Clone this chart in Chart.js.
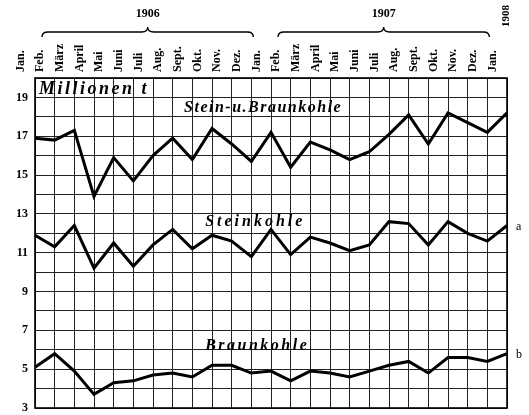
<!DOCTYPE html>
<html>
<head>
<meta charset="utf-8">
<script src="https://cdn.jsdelivr.net/npm/chart.js@4"></script>
<style>
body{margin:0;background:#fff}
#wrap{width:529px;height:415px;position:relative}
</style>
</head>
<body>
<div id="wrap"><canvas id="chart"></canvas></div>
<script>
// Monatsförderung in Millionen t, Jan. 1906 bis Jan. 1908
var months = ['Jan.','Feb.','März','April','Mai','Juni','Juli','Aug.','Sept.','Okt.','Nov.','Dez.',
              'Jan.','Feb.','März','April','Mai','Juni','Juli','Aug.','Sept.','Okt.','Nov.','Dez.',
              'Jan.'];
var years = [{label:'1906', from:0, to:11}, {label:'1907', from:12, to:23}];
var steinBraun = [16.9,16.8,17.3,13.9,15.9,14.7,16.0,16.9,15.8,17.4,16.6,15.7,
                  17.2,15.4,16.7,16.3,15.8,16.2,17.1,18.1,16.6,18.2,17.7,17.2,18.2];
var stein = [11.9,11.3,12.4,10.2,11.5,10.3,11.4,12.2,11.2,11.9,11.6,10.8,
             12.2,10.9,11.8,11.5,11.1,11.4,12.6,12.5,11.4,12.6,12.0,11.6,12.4];
var braun = [5.1,5.8,4.9,3.7,4.3,4.4,4.7,4.8,4.6,5.2,5.2,4.8,
             4.9,4.4,4.9,4.8,4.6,4.9,5.2,5.4,4.8,5.6,5.6,5.4,5.8];
var yTicks = [3,5,7,9,11,13,15,17,19];

var serif = '"Liberation Serif", "DejaVu Serif", serif';

// beschriftungen im diagramm (x = monatsindex, y = wert)
var seriesNames = [
  {text:'Stein-u.Braunkohle', x:11.6, y:18.45, spacing:1.5},
  {text:'Steinkohle', x:11.2, y:12.6, spacing:3},
  {text:'Braunkohle', x:11.3, y:6.2, spacing:2.5}
];

var extras = {
  id:'extras',
  afterDraw: function(chart){
    var ctx = chart.ctx, a = chart.chartArea;
    var xs = chart.scales.x, ys = chart.scales.y;
    ctx.save();
    // rahmen
    ctx.strokeStyle = '#000';
    ctx.lineWidth = 1.6;
    ctx.strokeRect(a.left, a.top, a.right - a.left, a.bottom - a.top);

    // jahres-klammern
    ctx.lineWidth = 1.4;
    ctx.fillStyle = '#000';
    ctx.font = 'bold 12px ' + serif;
    ctx.textAlign = 'center';
    ctx.textBaseline = 'middle';
    years.forEach(function(yr){
      var x1 = xs.getPixelForValue(yr.from) + 7;
      var x2 = xs.getPixelForValue(yr.to) + 2;
      var xm = (x1 + x2) / 2;
      var y = 32;
      ctx.beginPath();
      ctx.moveTo(x1, y + 5);
      ctx.quadraticCurveTo(x1, y, x1 + 6, y);
      ctx.lineTo(xm - 6, y);
      ctx.quadraticCurveTo(xm, y, xm, y - 5);
      ctx.quadraticCurveTo(xm, y, xm + 6, y);
      ctx.lineTo(x2 - 6, y);
      ctx.quadraticCurveTo(x2, y, x2, y + 5);
      ctx.stroke();
      ctx.fillText(yr.label, xm, 14);
    });
    // 1908 über dem letzten Jan.
    ctx.save();
    ctx.translate(xs.getPixelForValue(24) - 1, 16);
    ctx.rotate(-Math.PI / 2);
    ctx.font = 'bold 11px ' + serif;
    ctx.fillText('1908', 0, 0);
    ctx.restore();

    // Millionen t
    ctx.font = 'bold italic 18px ' + serif;
    ctx.textAlign = 'left';
    ctx.letterSpacing = '2.5px';
    ctx.fillText('Millionen t', a.left + 4, a.top + 11);

    // namen der reihen
    ctx.font = 'bold italic 16px ' + serif;
    ctx.textAlign = 'center';
    seriesNames.forEach(function(s){
      ctx.letterSpacing = s.spacing + 'px';
      ctx.fillText(s.text, xs.getPixelForValue(s.x), ys.getPixelForValue(s.y));
    });

    // a und b rechts
    ctx.letterSpacing = '0px';
    ctx.font = '12px ' + serif;
    ctx.textAlign = 'left';
    var last = months.length - 1;
    ctx.fillText('a', xs.getPixelForValue(last) + 9, ys.getPixelForValue(stein[last]) + 1);
    ctx.fillText('b', xs.getPixelForValue(last) + 9, ys.getPixelForValue(braun[last]) + 1);
    ctx.restore();
  }
};

function lineSet(label, data){
  return {
    label: label,
    data: data,
    borderColor: '#000',
    borderWidth: 3,
    pointRadius: 0,
    tension: 0,
    fill: false
  };
}

var ctx = document.getElementById('chart').getContext('2d');
var chart = new Chart(ctx, {
  type: 'line',
  data: {
    labels: months,
    datasets: [
      lineSet('Stein-u.Braunkohle', steinBraun),
      lineSet('Steinkohle', stein),
      lineSet('Braunkohle', braun)
    ]
  },
  options: {
    responsive: true,
    maintainAspectRatio: false,
    animation: false,
    layout: {padding: {left: 0, right: 22, top: 0, bottom: 7}},
    plugins: {legend: {display: false}, tooltip: {enabled: false}},
    scales: {
      x: {
        position: 'top',
        offset: false,
        afterFit: function(s){ s.height = 78; s.paddingLeft = 0; s.paddingRight = 0; },
        grid: {color: '#222', lineWidth: 1, drawTicks: false},
        border: {display: false},
        ticks: {
          autoSkip: false,
          minRotation: 90,
          maxRotation: 90,
          padding: 6,
          color: '#000',
          font: {family: serif, size: 12, weight: 'bold'}
        }
      },
      y: {
        min: 3,
        max: 20,
        afterFit: function(s){ s.width = 35; s.paddingTop = 0; s.paddingBottom = 0; },
        grid: {color: '#222', lineWidth: 1, drawTicks: false},
        border: {display: false},
        ticks: {
          stepSize: 1,
          padding: 7,
          color: '#000',
          font: {family: serif, size: 12, weight: 'bold'},
          callback: function(v){ return yTicks.indexOf(v) >= 0 ? v : ''; }
        }
      }
    }
  },
  plugins: [extras]
});
</script>
</body>
</html>
